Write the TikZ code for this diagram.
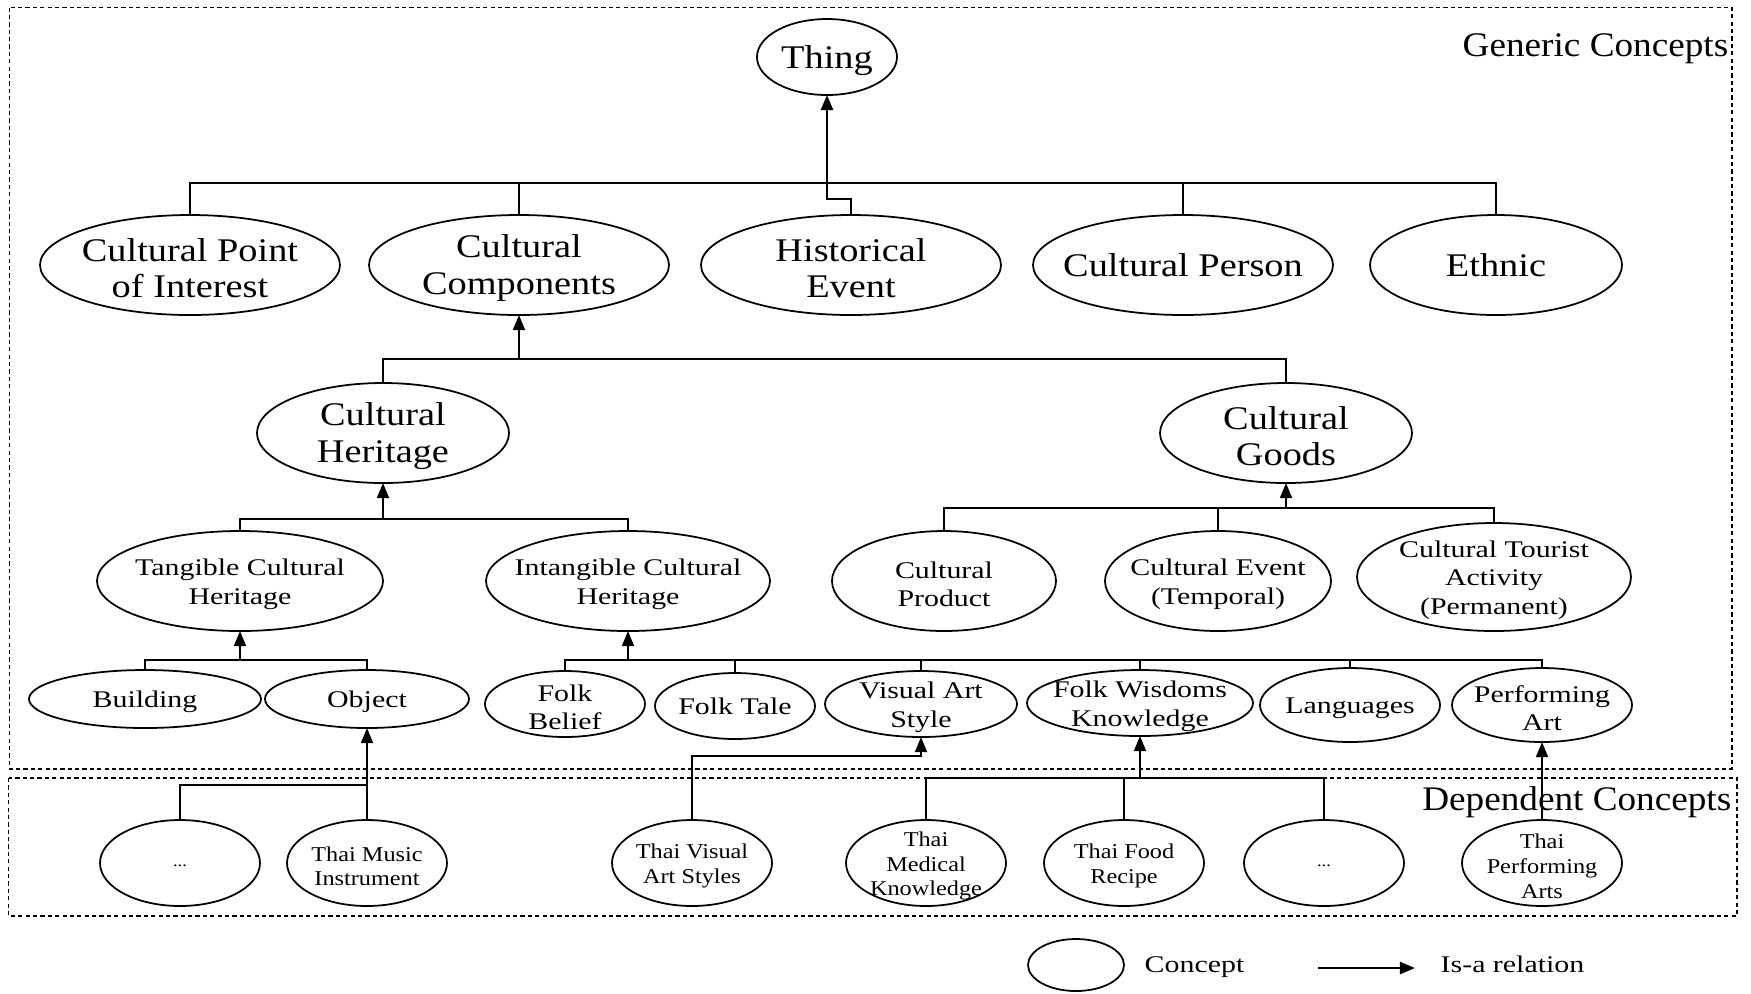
\documentclass[tikz,border=0pt]{standalone}
\usepackage{fontspec}
\setmainfont{Liberation Serif}
\newfontfamily\cBigFam{Liberation Serif}[FakeStretch=1.16]
\newfontfamily\cMidFam{Liberation Serif}[FakeStretch=1.25]
\newfontfamily\cDepFam{Liberation Serif}[FakeStretch=1.15]
\newfontfamily\cHeadFam{Liberation Serif}[FakeStretch=1.08]
\newcommand\fBig{\cBigFam\fontsize{9.4pt}{10.44pt}\selectfont}
\newcommand\fMid{\cMidFam\fontsize{6.8pt}{8.1pt}\selectfont}
\newcommand\fDep{\cDepFam\fontsize{6pt}{7pt}\selectfont}
\newcommand\fDots{\cDepFam\fontsize{4.5pt}{5pt}\selectfont}
\newcommand\fHead{\cHeadFam\fontsize{9.8pt}{11pt}\selectfont}
\usetikzlibrary{shapes.geometric,arrows.meta}

\begin{document}
\begin{tikzpicture}[x=0.01cm,y=-0.01cm,
  shape base/.style 2 args={ellipse, draw, line width=0.5pt, inner sep=0pt, outer sep=0pt,
    minimum width=#1*0.01cm, minimum height=#2*0.01cm},
  % concept whose text has descenders or several lines
  concept/.style n args={4}{shape base={#1}{#2},
    label={[inner sep=0pt, align=center, font=#4, yshift=-0.9pt]center:{#3}}},
  % concept with one line of text and no descenders
  flatconcept/.style n args={4}{shape base={#1}{#2},
    label={[inner sep=0pt, align=center, font=#4]center:{#3}}},
  link/.style={line width=0.6pt},
  isa/.style={line width=0.6pt, -{Triangle[length=4.3pt,width=3.4pt]}},
  region/.style={dash pattern=on 1.2pt off 0.9pt, line width=0.45pt},
  heading/.style={inner sep=0pt, font=\fHead},
  legtext/.style={inner sep=0pt, font=\fMid, anchor=base west},
]
\useasboundingbox (0,0) rectangle (1751,993);

% the two concept regions
\draw[region] (9.5,7.5) rectangle (1732,769);
\draw[region] (8.5,778) rectangle (1737,916);
\node[heading, anchor=base east] (generic) at (1729,56) {Generic Concepts};

% root
\node[concept={140}{76}{Thing}{\fBig}] (thing) at (827,57) {};

% first level
\node[concept={300}{100}{Cultural Point\\of Interest}{\fBig}] (cpi) at (190,265) {};
\node[concept={300}{100}{Cultural\\Components}{\fBig}] (cc) at (519,265) {};
\node[concept={300}{100}{Historical\\Event}{\fBig}] (he) at (851,265) {};
\node[flatconcept={300}{100}{Cultural Person}{\fBig}] (cp) at (1183,265) {};
\node[flatconcept={252}{100}{Ethnic}{\fBig}] (eth) at (1496,265) {};

% second level
\node[concept={252}{100}{Cultural\\Heritage}{\fBig}] (ch) at (383,433) {};
\node[concept={252}{100}{Cultural\\Goods}{\fBig}] (cg) at (1286,433) {};

% third level
\node[concept={286}{100}{Tangible Cultural\\Heritage}{\fMid}] (tch) at (240,581) {};
\node[concept={284}{100}{Intangible Cultural\\Heritage}{\fMid}] (ich) at (628,581) {};
\node[concept={224}{100}{Cultural\\Product}{\fMid}] (cprod) at (944,581) {};
\node[concept={226}{100}{Cultural Event\\(Temporal)}{\fMid}] (cev) at (1218,581) {};
\node[concept={274}{108}{Cultural Tourist\\Activity\\(Permanent)}{\fMid}] (cta) at (1494,577) {};

% fourth level
\node[concept={232}{58}{Building}{\fMid}] (bld) at (145,699) {};
\node[concept={204}{58}{Object}{\fMid}] (obj) at (367,699) {};
\node[concept={160}{66}{Folk\\Belief}{\fMid}] (fb) at (565,704) {};
\node[flatconcept={160}{66}{Folk Tale}{\fMid}] (ft) at (735,706) {};
\node[concept={192}{66}{Visual Art\\Style}{\fMid}] (vas) at (921,704) {};
\node[concept={226}{66}{Folk Wisdoms\\Knowledge}{\fMid}] (fwk) at (1140,703) {};
\node[concept={180}{74}{Languages}{\fMid}] (lang) at (1350,705) {};
\node[concept={180}{74}{Performing\\Art}{\fMid}] (pa) at (1542,705) {};

% dependent concepts
\node[heading, anchor=base east] (dependent) at (1732,810) {Dependent Concepts};
\node[concept={160}{86}{...}{\fDots}] (dl) at (180,863) {};
\node[concept={160}{86}{Thai Music\\Instrument}{\fDep}] (tmi) at (367,863) {};
\node[concept={160}{86}{Thai Visual\\Art Styles}{\fDep}] (tva) at (692,863) {};
\node[concept={160}{86}{Thai\\Medical\\Knowledge}{\fDep}] (tmk) at (926,863) {};
\node[concept={160}{86}{Thai Food\\Recipe}{\fDep}] (tfr) at (1124,863) {};
\node[concept={160}{86}{...}{\fDots}] (dr) at (1324,863) {};
\node[concept={160}{86}{Thai\\Performing\\Arts}{\fDep}] (tpa) at (1542,863) {};

% heights of the joining bars
\coordinate (y1) at (0,183);
\coordinate (y2) at (0,359);
\coordinate (y3) at (0,519);
\coordinate (y4) at (0,508);
\coordinate (y5) at (0,660);
\coordinate (y7) at (0,785);
\coordinate (y8) at (0,756);
\coordinate (y9) at (0,778);

% Thing and its children
\draw[link] (cpi.north) |- (eth.north |- y1) -- (eth.north);
\foreach \n in {cc,cp} \draw[link] (\n.north) -- (\n.north |- y1);
\draw[isa, line width=0.8pt] (he.north) -- ++(0,-16) -| (thing.south);

% Cultural Components
\draw[link] (ch.north) |- (cg.north |- y2) -- (cg.north);
\draw[isa] (cc.south |- y2) -- (cc.south);

% Cultural Heritage
\draw[link] (tch.north) |- (ich.north |- y3) -- (ich.north);
\draw[isa] (ch.south |- y3) -- (ch.south);

% Cultural Goods
\draw[link] (cprod.north) |- (cta.north |- y4) -- (cta.north);
\draw[link] (cev.north) -- (cev.north |- y4);
\draw[isa] (cg.south |- y4) -- (cg.south);

% Tangible Cultural Heritage
\draw[link] (bld.north) |- (obj.north |- y5) -- (obj.north);
\draw[isa] (tch.south |- y5) -- (tch.south);

% Intangible Cultural Heritage
\draw[link] (fb.north) |- (pa.north |- y5) -- (pa.north);
\foreach \n in {ft,vas,fwk,lang} \draw[link] (\n.north) -- (\n.north |- y5);
\draw[isa] (ich.south |- y5) -- (ich.south);

% dependent links
\draw[link] (dl.north) |- (tmi.north |- y7);
\draw[isa] (tmi.north) -- (obj.south);
\draw[isa] (tva.north) |- (vas.south |- y8) -- (vas.south);
\draw[link] (tmk.north) |- (dr.north |- y9) -- (dr.north);
\draw[link] (tfr.north) -- (tfr.north |- y9);
\draw[isa] (fwk.south |- y9) -- (fwk.south);
\draw[isa] (tpa.north) -- (pa.south);

% legend
\node[concept={96}{52}{}{\fMid}] (leg) at (1076,965) {};
\node[legtext] (legc) at (1144,972) {Concept};
\coordinate (la) at (1318,968);
\coordinate (lb) at (1415,968);
\draw[isa, line width=0.8pt] (la) -- (lb);
\node[legtext] (legr) at (1440,972) {Is-a relation};
\end{tikzpicture}
\end{document}
